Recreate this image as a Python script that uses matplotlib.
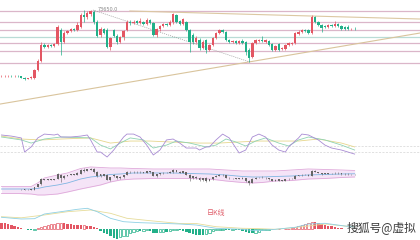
import matplotlib
matplotlib.use("Agg")
import matplotlib.pyplot as plt
import numpy as np

plt.rcParams['font.family'] = ['Noto Sans CJK SC', 'DejaVu Sans']

# daily candles (price)
opens = [63750, 63750, 63750, 63825, 63750, 63825, 63750, 63525, 63375, 63450,
         63450, 64650, 66000, 68400, 68100, 68400, 68250, 68550, 70650, 68850,
         70200, 70500, 70800, 70650, 71100, 72900, 72600, 73050, 73350, 71850,
         69900, 70800, 70650, 68100, 70650, 69750, 68850, 69600, 70650, 71850,
         71700, 72000, 71700, 71850, 71550, 72150, 71700, 69900, 70800, 71250,
         71550, 71400, 71850, 72900, 72000, 71550, 71850, 70650, 69900, 68850,
         69150, 67950, 69150, 67650, 68400, 69450, 70200, 70650, 70350, 69150,
         68850, 69000, 68700, 69000, 68850, 67650, 66600, 68700, 69000, 69150,
         68850, 69000, 68550, 67650, 68550, 67800, 67800, 68400, 68550, 68700,
         70050, 70350, 70650, 70650, 70200, 72600, 71850, 71400, 71250, 71100,
         71400, 71250, 71550, 71250, 71100, 71100, 70800, 70875]
closes = [63825, 63750, 63825, 63750, 63825, 63750, 63525, 63375, 63450, 63600,
          64650, 66000, 68400, 68100, 68400, 68250, 68550, 71100, 68850, 70200,
          70500, 70800, 70650, 71400, 72900, 72600, 73200, 73500, 71850, 69750,
          70800, 70200, 68100, 69450, 69750, 68850, 69600, 70500, 71850, 71700,
          71925, 71700, 72000, 71550, 72150, 71700, 69900, 70800, 71250, 71550,
          71400, 71850, 73050, 71850, 71550, 72300, 70650, 68850, 68850, 69450,
          67950, 68850, 67650, 68400, 69450, 70200, 70650, 70350, 69150, 68850,
          69000, 68700, 69000, 68700, 67350, 66450, 68700, 69150, 69150, 69000,
          69150, 68400, 67650, 68250, 67650, 67950, 68400, 68700, 68700, 70200,
          70350, 70650, 70500, 70200, 72600, 71850, 71400, 70950, 71100, 71400,
          71250, 71550, 71250, 70800, 70800, 70800, 70875, 70800]
highs = [63975, 63900, 63900, 63900, 63975, 63900, 63825, 63600, 63525, 63750,
         64800, 66300, 68850, 68700, 68550, 68550, 68700, 71400, 70950, 70500,
         70650, 70950, 70950, 71850, 73200, 73650, 73500, 73650, 73650, 72150,
         71100, 70950, 70950, 69600, 70800, 70050, 69750, 70650, 72150, 72150,
         72150, 72150, 72450, 72000, 72450, 72300, 71850, 70950, 71400, 71700,
         71700, 72150, 73200, 73050, 72150, 72450, 72000, 70800, 70200, 69750,
         69450, 69150, 69300, 68550, 69600, 70350, 70800, 70800, 70500, 69300,
         69150, 69150, 69150, 69300, 69000, 67950, 68850, 69300, 69300, 69750,
         69300, 69150, 68700, 68400, 68700, 68100, 68550, 68850, 68850, 70350,
         70650, 70800, 70800, 70800, 72900, 72750, 72000, 71550, 71400, 71550,
         71550, 72000, 71700, 71400, 71250, 71400, 70950, 71100]
lows = [63600, 63600, 63675, 63600, 63675, 63600, 63450, 63225, 63300, 63300,
        63300, 64500, 65850, 67950, 67950, 68100, 68100, 68400, 66900, 68700,
        70050, 70350, 70500, 70500, 70950, 71850, 72300, 72750, 71550, 69600,
        69600, 70050, 67950, 67650, 69600, 68550, 68700, 69150, 70500, 71400,
        71550, 71550, 71550, 71400, 71400, 71550, 69750, 69600, 70500, 71100,
        71250, 71250, 71550, 71700, 71400, 71400, 70500, 67350, 68550, 68700,
        67650, 67800, 67200, 67500, 68250, 69300, 70050, 70200, 69000, 68700,
        68700, 68550, 68550, 68550, 66900, 65850, 66450, 68550, 68850, 68850,
        68700, 68250, 67500, 67500, 67500, 67650, 67650, 68250, 68400, 68550,
        69900, 70200, 70350, 70050, 70050, 71700, 71250, 70350, 70950, 70950,
        71100, 71100, 71100, 70650, 70650, 70650, 70650, 70650]

# drawn levels / trend lines (x = bar index, y = price)
levels = [73550, 71850, 70650, 69600, 68700, 67500, 65700]
trend_up_x, trend_up_y = [-0.45, 126.8], [59550, 70200]
trend_top_x, trend_top_y = [38.9, 126.8], [73500, 72300]
trend_dot_x, trend_dot_y = [27.7, 75.3], [73650, 65850]
peak_idx, peak_price = 29, 73800
peak_label = "73650.0"

# KDJ
j_x = [0, 3, 6, 7, 9, 11, 13, 16, 17, 18, 21, 24, 26, 27, 29, 30, 32, 34, 37, 38,
       40, 42, 44, 46, 48, 50, 52, 54, 56, 59, 60, 62, 63, 65, 67, 69, 71, 72, 74, 76,
       78, 80, 82, 84, 86, 87, 90, 91, 93, 96, 98, 100, 103, 105, 107]
j_val = [110, 104, 94, 17, 45, 94, 115, 110, 115, 99, 99, 104, 110, 83, 17, 17, -10, 28, 99, 115,
         115, 99, 55, 1, 28, 83, 88, 66, 39, 39, 28, 45, 45, 83, 115, 94, 39, 12, 28, 99,
         115, 99, 55, 28, 17, 45, 94, 115, 110, 83, 55, 39, 28, 17, 6]
k_x = [0, 6, 9, 13, 18, 27, 30, 33, 36, 39, 43, 46, 50, 53, 57, 62, 65, 68, 71, 74,
       77, 80, 84, 87, 90, 93, 98, 103, 107]
k_val = [99, 83, 66, 88, 99, 94, 55, 34, 66, 94, 83, 39, 55, 77, 66, 45, 55, 88, 72, 50,
         77, 94, 66, 50, 83, 99, 83, 55, 28]
d_x = [0, 6, 12, 18, 27, 33, 39, 45, 51, 60, 66, 72, 78, 84, 90, 96, 103, 107]
d_val = [104, 88, 83, 88, 94, 66, 77, 77, 72, 66, 66, 72, 77, 77, 77, 88, 66, 45]

# Bollinger
boll_x = [0, 5, 9, 11, 13, 17, 20, 24, 27, 30, 33, 36, 40, 46, 52, 57, 63, 68, 73, 76,
          79, 83, 88, 93, 98, 103, 107]
boll_up = [64950, 64950, 64950, 66630, 69030, 70470, 71430, 73590, 74310, 74070,
           73830, 73830, 73590, 73350, 73350, 73350, 73350, 72870, 72390, 72390,
           72390, 72390, 72870, 73350, 73110, 72870, 72630]
boll_mid = [63750, 63750, 63750, 63990, 64710, 65670, 66630, 68550, 69510, 69990,
            70710, 70950, 71430, 71430, 71430, 71190, 70950, 70470, 69750, 69510,
            69510, 69750, 69990, 70470, 70710, 70950, 71050]
boll_low = [61590, 61590, 61350, 60870, 60870, 61350, 62310, 63750, 64710, 65670,
            67110, 68070, 68550, 68790, 68790, 68790, 68550, 67590, 66870, 66630,
            66870, 67590, 67830, 68550, 68790, 69270, 69510]

# MACD
macd_hist = [650, 630, 550, 450, 350, 200, 150, 50, -50, -100,
             -30, 150, 250, 350, 450, 500, 530, 600, 650, 600,
             550, 500, 450, 430, 400, 420, 350, 300, 250, 100,
             -200, -350, -500, -700, -850, -950, -800, -700, -650, -400,
             -250, -150, -200, -150, -100, -200, -350, -350, -300, -250,
             -280, -150, -100, -80, -120, -150, -250, -400, -500, -550,
             -580, -600, -500, -400, -150, -80, -50, -30, -50, -70,
             -60, -80, -100, -150, -300, -350, -400, -350, -250, -100,
             -50, -30, 30, 30, 40, 30, 50, 60, 80, 200,
             300, 400, 500, 630, 750, 700, 650, 550, 450, 350,
             280, 200, 150, 100, 50, 40, 30, 20]
dif_x = [0, 6, 10, 13, 18, 23, 26, 29, 33, 37, 42, 48, 54, 59, 65, 73, 77, 83, 89, 93, 98, 104, 107]
dif_val = [1200, 1030, 1060, 1530, 1760, 2000, 2100, 1760, 1100, 760, 660, 600, 530, 430, 100,
           0, -140, 0, 200, 530, 600, 330, 230]
dea_x = [0, 6, 13, 20, 27, 33, 38, 45, 54, 59, 65, 73, 77, 83, 89, 93, 98, 104, 107]
dea_val = [1260, 1150, 1430, 1760, 1930, 1600, 1100, 860, 580, 580, 260, 100, 80, 0, 180,
           330, 530, 330, 250]

watermark = '搜狐号@虚拟'

UP = '#e35663'
DOWN = '#22b089'
XLIM = (-0.45, 126.8)


def draw_candles(ax, width, wick_lw, up=UP, down=DOWN):
    x = np.arange(len(opens))
    o = np.array(opens)
    c = np.array(closes)
    cols = [up if cc >= oo else down for oo, cc in zip(o, c)]
    ax.vlines(x, lows, highs, colors=cols, linewidth=wick_lw, zorder=3)
    body = np.maximum(np.abs(c - o), 40)
    ax.bar(x, body, bottom=np.minimum(o, c), width=width, color=cols,
           linewidth=0, zorder=4)


fig = plt.figure(figsize=(4.2, 2.4), dpi=100)

# main price panel
ax = fig.add_axes([0, 0.508, 1, 0.492])
ax.set_xlim(*XLIM)
ax.set_ylim(57450, 75150)
for i, lv in enumerate(levels):
    ax.axhline(lv, color='#b9dcd6' if i == 3 else '#dbb6c9', lw=0.9, zorder=1)
ax.plot(trend_up_x, trend_up_y, color='#d9c49c', lw=0.8, zorder=2)
ax.plot(trend_top_x, trend_top_y, color='#dcc8a2', lw=0.8, zorder=2)
ax.plot(trend_dot_x, trend_dot_y, color='#9a9a9a', lw=0.5, ls=(0, (1.5, 1.5)), zorder=2)
ax.text(peak_idx, peak_price, peak_label, fontsize=3.5, color='#888888',
        family='DejaVu Sans', va='center', ha='left')
draw_candles(ax, 0.72, 0.5)
ax.set_axis_off()

# KDJ panel
ax2 = fig.add_axes([0, 0.325, 1, 0.175])
ax2.set_xlim(*XLIM)
ax2.set_ylim(-37.2, 191.7)
for lv in (50, 20):
    ax2.axhline(lv, color='#d4d4d4', lw=0.5, ls=(0, (3, 2)))
ax2.plot(d_x, d_val, color='#e6d68c', lw=0.6)
ax2.plot(k_x, k_val, color='#8fd3b2', lw=0.6)
ax2.plot(j_x, j_val, color='#a88bd3', lw=0.6)
ax2.set_axis_off()

# Bollinger panel
ax3 = fig.add_axes([0, 0.1667, 1, 0.1667])
ax3.set_xlim(*XLIM)
ax3.set_ylim(58470, 77670)
ax3.fill_between(boll_x, boll_low, boll_up, color='#f5e4f7', lw=0)
ax3.plot(boll_x, boll_up, color='#dfa9da', lw=0.6)
ax3.plot(boll_x, boll_low, color='#dfa9da', lw=0.6)
ax3.plot(boll_x, boll_mid, color='#7fb6e2', lw=0.6)
draw_candles(ax3, 0.55, 0.4, up='#666666', down='#666666')
ax3.set_axis_off()

# MACD panel
ax4 = fig.add_axes([0, 0, 1, 0.1667])
ax4.set_xlim(*XLIM)
ax4.set_ylim(-1070, 2930)
hx = np.arange(len(macd_hist))
prev = np.concatenate([[macd_hist[0] + 1], macd_hist[:-1]])
for x, h, p in zip(hx, macd_hist, prev):
    col = UP if h >= 0 else DOWN
    hollow = h > p
    ax4.bar(x, h, width=0.72, facecolor='white' if hollow else col,
            edgecolor=col, linewidth=0.5 if hollow else 0)
ax4.plot(dea_x, dea_val, color='#e6dc9a', lw=0.6)
ax4.plot(dif_x, dif_val, color='#8fd0e4', lw=0.6)
ax4.text(0.514, 0.675, '日K线', transform=ax4.transAxes, fontsize=5,
         color='#e0606c', ha='center', va='center')
ax4.set_axis_off()

fig.text(0.826, 0.05, watermark, fontsize=8.5, color='#3c3c3c',
         ha='left', va='center')

fig.savefig('out.png', dpi=100)
